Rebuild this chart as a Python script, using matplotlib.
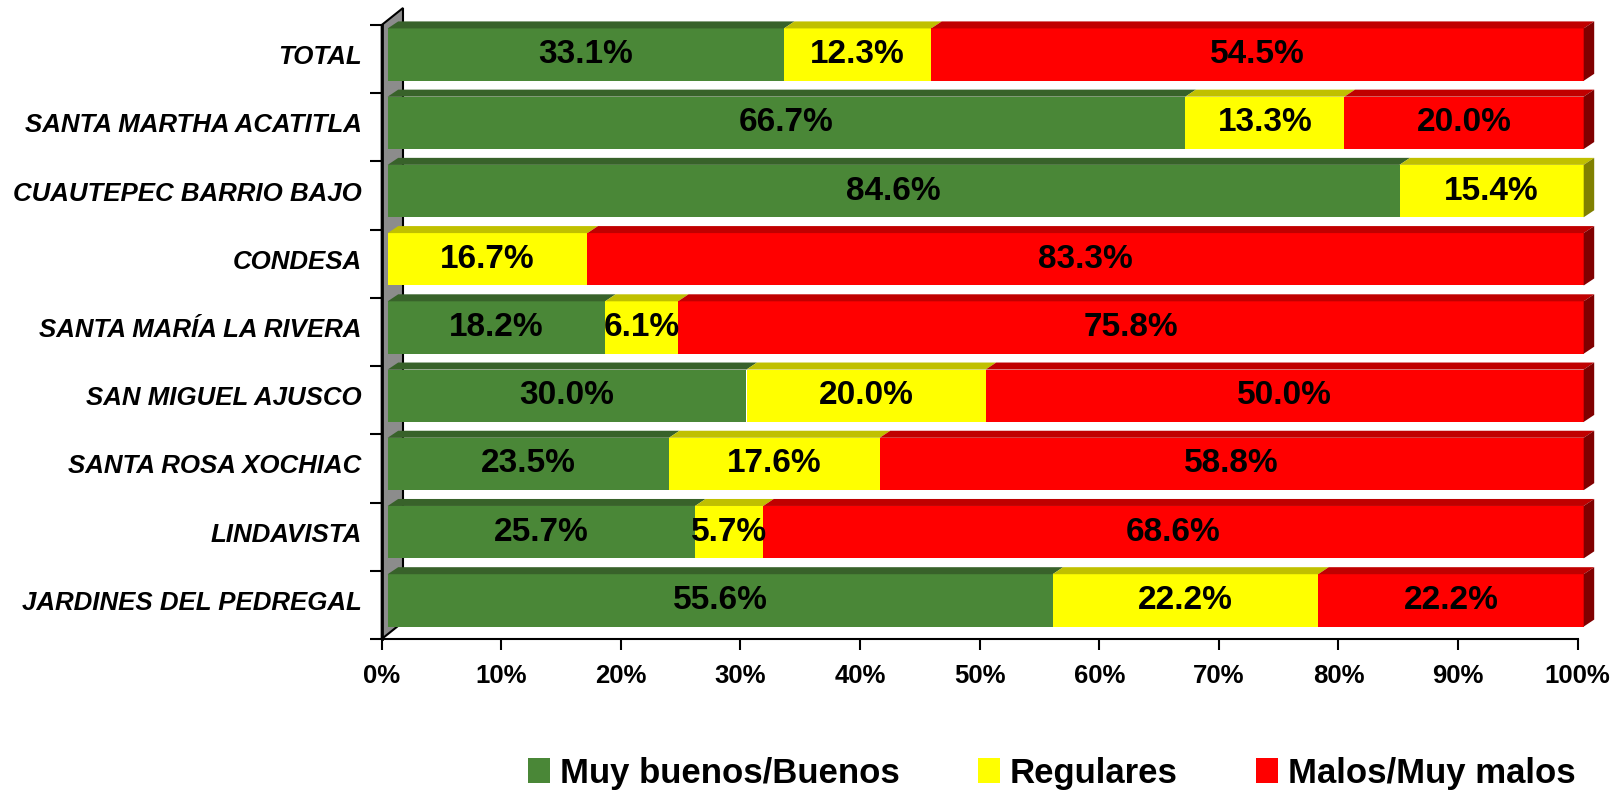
import matplotlib
matplotlib.use("Agg")
import matplotlib.pyplot as plt
from matplotlib.patches import Polygon, Patch

plt.rcParams['font.family'] = ['Liberation Sans', 'DejaVu Sans']
plt.rcParams['font.weight'] = 'bold'

categories = ["TOTAL", "SANTA MARTHA ACATITLA", "CUAUTEPEC BARRIO BAJO", "CONDESA",
              "SANTA MARÍA LA RIVERA", "SAN MIGUEL AJUSCO", "SANTA ROSA XOCHIAC",
              "LINDAVISTA", "JARDINES DEL PEDREGAL"]
buenos = [33.1, 66.7, 84.6, 0.0, 18.2, 30.0, 23.5, 25.7, 55.6]
regulares = [12.3, 13.3, 15.4, 16.7, 6.1, 20.0, 17.6, 5.7, 22.2]
malos = [54.5, 20.0, 0.0, 83.3, 75.8, 50.0, 58.8, 68.6, 22.2]
series_names = ["Muy buenos/Buenos", "Regulares", "Malos/Muy malos"]
xticks = [0, 10, 20, 30, 40, 50, 60, 70, 80, 90, 100]

front_cols = ["#4a8737", "#ffff00", "#ff0000"]
top_cols = ["#38622a", "#c0c000", "#c00000"]
side_cols = ["#2a4a20", "#808000", "#800000"]

W, H = 1623, 791
fig = plt.figure(figsize=(W / 100, H / 100), dpi=100)
fig.patch.set_facecolor("white")

ax_l, ax_r, ax_top, ax_bot = 381.7, 1577.7, 25.0, 639.0
ax = fig.add_axes([ax_l / W, (H - ax_bot) / H, (ax_r - ax_l) / W, (ax_bot - ax_top) / H])
n = len(categories)
ax.set_xlim(0, 100)
ax.set_ylim(-0.5, n - 0.5)
ux = (ax_r - ax_l) / 100.0
uy = (ax_bot - ax_top) / n

def dxu(px):
    return px / ux

def dyu(px):
    return px / uy

# wall (left side, gray)
wdx, wdy = dxu(21.3), dyu(17)
wall = Polygon([(0, -0.5), (0, n - 0.5), (wdx, n - 0.5 + wdy), (wdx, -0.5 + wdy)],
               closed=True, facecolor="#8c8c8c", edgecolor="black", lw=1.5,
               zorder=1, clip_on=False)
ax.add_patch(wall)

# bars
offx, offy = dxu(6), dyu(4.5)
ddx, ddy = dxu(10.5), dyu(7)
bh = 0.768
for idx, cat in enumerate(categories):
    vals = [buenos[idx], regulares[idx], malos[idx]]
    tot = sum(vals)
    norm = [v / tot * 100 for v in vals]
    yc = (n - 1 - idx) + offy
    yb, yt = yc - bh / 2, yc + bh / 2
    left = offx
    last = max(k for k in range(3) if vals[k] > 0)
    for k in range(3):
        w = norm[k]
        if vals[k] <= 0:
            continue
        ax.barh(yc, w, left=left, height=bh, color=front_cols[k], zorder=3, lw=0, clip_on=False)
        top = Polygon([(left, yt), (left + w, yt), (left + w + ddx, yt + ddy), (left + ddx, yt + ddy)],
                      closed=True, facecolor=top_cols[k], edgecolor="none", zorder=3, clip_on=False)
        ax.add_patch(top)
        if k == last:
            side = Polygon([(left + w, yb), (left + w, yt), (left + w + ddx, yt + ddy), (left + w + ddx, yb + ddy)],
                           closed=True, facecolor=side_cols[k], edgecolor="none", zorder=3, clip_on=False)
            ax.add_patch(side)
        ax.text(left + w / 2, yc, f"{vals[k]:.1f}%", ha="center", va="center",
                fontsize=24, fontweight="bold", color="black", zorder=5)
        left += w

# spines
for s in ["top", "right"]:
    ax.spines[s].set_visible(False)
ax.spines["left"].set_linewidth(2)
ax.spines["bottom"].set_linewidth(1.5)
ax.spines["left"].set_zorder(2)
ax.set_facecolor("none")

ax.set_xticks(xticks)
ax.set_xticklabels([f"{t}%" for t in xticks], fontsize=18.5, fontweight="bold")
ax.tick_params(axis="x", direction="out", length=8, width=1.5, pad=10)

ax.set_yticks([i - 0.5 for i in range(n + 1)])
ax.set_yticklabels([])
ax.set_yticks([i + offy for i in range(n)], minor=True)
ax.set_yticklabels(categories[::-1], minor=True, fontsize=18.6, fontweight="bold", fontstyle="italic")
ax.tick_params(axis="y", which="major", direction="out", length=8.4, width=1.5)
ax.tick_params(axis="y", which="minor", length=0, pad=14.5)

handles = [Patch(facecolor=c, edgecolor="none") for c in front_cols]
fig.legend(handles, series_names, loc="center", bbox_to_anchor=(1052 / W, (H - 773) / H),
           ncol=3, frameon=False, handlelength=0.62, handleheight=0.7,
           handletextpad=0.3, columnspacing=2.25, borderpad=0,
           prop={"family": ["Liberation Sans"], "weight": "bold", "size": 25})

fig.savefig("out.png", dpi=100, facecolor="white")
